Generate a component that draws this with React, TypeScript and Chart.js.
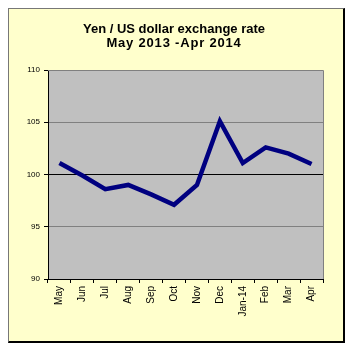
import React, { useEffect, useRef } from "react";
import { Chart, registerables } from "chart.js";

Chart.register(...registerables);

const months = ["May", "Jun", "Jul", "Aug", "Sep", "Oct", "Nov", "Dec", "Jan-14", "Feb", "Mar", "Apr"];
const yenPerDollar = [101.1, 99.9, 98.6, 99.0, 98.1, 97.1, 99.0, 105.1, 101.1, 102.6, 102.0, 101.0];
const yTicks = [90, 95, 100, 105, 110];
const titleLines = ["Yen / US dollar exchange rate", "May 2013 -Apr 2014"];

const plotBg = {
  id: "plotBg",
  beforeDraw(chart: any) {
    const { ctx, chartArea: a } = chart;
    ctx.save();
    ctx.fillStyle = "#C0C0C0";
    ctx.fillRect(a.left, a.top, a.right - a.left, a.bottom - a.top);
    ctx.restore();
  },
  afterDatasetsDraw(chart: any) {
    const { ctx, chartArea: a } = chart;
    ctx.save();
    ctx.strokeStyle = "#808080";
    ctx.lineWidth = 1;
    ctx.beginPath();
    ctx.moveTo(a.left, a.top + 0.5);
    ctx.lineTo(a.right + 0.5, a.top + 0.5);
    ctx.lineTo(a.right + 0.5, a.bottom);
    ctx.stroke();
    ctx.restore();
  },
};

export default function App() {
  const ref = useRef<HTMLCanvasElement | null>(null);
  useEffect(() => {
    if (!ref.current) return;
    const chart = new Chart(ref.current, {
      type: "line",
      data: {
        labels: months,
        datasets: [
          {
            data: yenPerDollar,
            borderColor: "#000080",
            borderWidth: 4.5,
            pointRadius: 0,
            tension: 0,
            fill: false,
          },
        ],
      },
      options: {
        animation: false,
        responsive: false,
        maintainAspectRatio: false,
        layout: { padding: { top: 61, right: 20, left: 0, bottom: 0 } },
        plugins: { legend: { display: false }, title: { display: false }, tooltip: { enabled: false } },
        scales: {
          x: {
            type: "category",
            offset: true,
            grid: {
              offset: true,
              drawOnChartArea: false,
              drawTicks: true,
              tickLength: 4,
              color: "#000",
            },
            border: { color: "#000", width: 1 },
            ticks: {
              minRotation: 90,
              maxRotation: 90,
              autoSkip: false,
              color: "#000",
              padding: 3,
              font: { family: "Arial, 'Liberation Sans', sans-serif", size: 10 },
            },
            afterFit(scale: any) {
              scale.height = 62;
            },
          },
          y: {
            min: 90,
            max: 110,
            afterBuildTicks(scale: any) {
              scale.ticks = yTicks.map((v) => ({ value: v }));
            },
            grid: {
              color: (c: any) => (c.tick && c.tick.value === 100 ? "#000" : "#808080"),
              lineWidth: 1,
              tickLength: 4,
              tickColor: "#000",
            },
            border: { color: "#000", width: 1 },
            ticks: {
              color: "#000",
              padding: 4,
              font: { family: "Arial, 'Liberation Sans', sans-serif", size: 8 },
            },
            afterFit(scale: any) {
              scale.width = 39;
            },
          },
        },
      },
      plugins: [plotBg],
    });
    return () => chart.destroy();
  }, []);

  return (
    <div
      style={{
        position: "relative",
        width: 334,
        height: 332,
        background: "#FFFFCC",
        borderTop: "1px solid #777",
        borderLeft: "1px solid #777",
        borderRight: "2px solid #000",
        borderBottom: "2px solid #000",
      }}
    >
      <div
        style={{
          position: "absolute",
          left: 0,
          top: 13,
          width: 330,
          textAlign: "center",
          fontFamily: "Arial, 'Liberation Sans', sans-serif",
          fontWeight: "bold",
          fontSize: 13,
          lineHeight: "14px",
          color: "#000",
        }}
      >
        <div>{titleLines[0]}</div>
        <div style={{ letterSpacing: "0.8px" }}>{titleLines[1]}</div>
      </div>
      <canvas ref={ref} width={334} height={332} style={{ display: "block" }} />
    </div>
  );
}
